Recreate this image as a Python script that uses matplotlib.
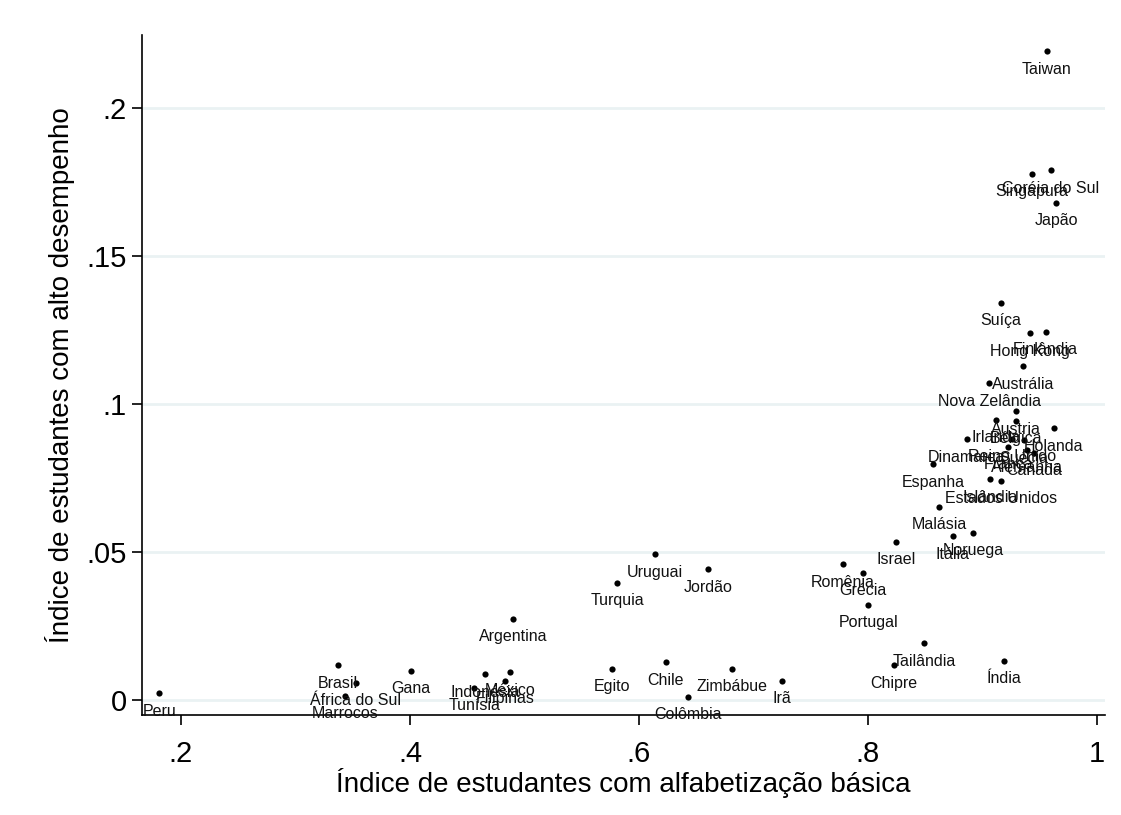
import matplotlib
matplotlib.use("Agg")
import matplotlib.pyplot as plt

plt.rcParams['font.family'] = ['Liberation Sans', 'DejaVu Sans']

# Share of students reaching basic literacy vs. share of top performers
paises = [
    "Taiwan", "Coréia do Sul", "Singapura", "Japão", "Suíça", "Hong Kong",
    "Finlândia", "Austrália", "Nova Zelândia", "Áustria", "Irlanda", "Bélgica",
    "Holanda", "Dinamarca", "Reino Unido", "Suécia", "França", "Alemanha",
    "Canadá", "Espanha", "Islândia", "Estados Unidos", "Malásia", "Itália",
    "Noruega", "Israel", "Romênia", "Grécia", "Portugal", "Irã", "Tailândia",
    "Chipre", "Índia", "Uruguai", "Jordão", "Turquia", "Egito", "Chile",
    "Zimbábue", "Colômbia", "Argentina", "Gana", "Brasil", "África do Sul",
    "Marrocos", "Peru", "Indonésia", "México", "Filipinas", "Tunísia",
]
alfabetizacao_basica = [
    0.9563, 0.9596, 0.9430, 0.9645, 0.9159, 0.9418,
    0.9552, 0.9356, 0.9059, 0.9293, 0.9115, 0.9293,
    0.9624, 0.8862, 0.9258, 0.9362, 0.9225, 0.9389,
    0.9450, 0.8570, 0.9066, 0.9162, 0.8623, 0.8740,
    0.8920, 0.8242, 0.7779, 0.7959, 0.8003, 0.7252, 0.8489,
    0.8227, 0.9188, 0.6140, 0.6605, 0.5810, 0.5762, 0.6233,
    0.6815, 0.6425, 0.4900, 0.4006, 0.3374, 0.3528,
    0.3432, 0.1810, 0.4655, 0.4873, 0.4830, 0.4562,
]
alto_desempenho = [
    0.2193, 0.1791, 0.1779, 0.1680, 0.1342, 0.1239,
    0.1244, 0.1128, 0.1070, 0.0976, 0.0948, 0.0943,
    0.0918, 0.0881, 0.0883, 0.0878, 0.0856, 0.0845,
    0.0835, 0.0797, 0.0746, 0.0741, 0.0653, 0.0554,
    0.0565, 0.0535, 0.0459, 0.0431, 0.0321, 0.0064, 0.0192,
    0.0118, 0.0133, 0.0493, 0.0442, 0.0396, 0.0105, 0.0127,
    0.0105, 0.0011, 0.0274, 0.0099, 0.0118, 0.0058,
    0.0014, 0.0023, 0.0087, 0.0094, 0.0064, 0.0042,
]
x_ticks = [0.2, 0.4, 0.6, 0.8, 1.0]
x_tick_labels = [".2", ".4", ".6", ".8", "1"]
y_ticks = [0.0, 0.05, 0.10, 0.15, 0.20]
y_tick_labels = ["0", ".05", ".1", ".15", ".2"]

fig = plt.figure(figsize=(11.21, 8.15), dpi=100)
ax = fig.add_axes([0.1267, 0.1227, 0.859, 0.834])

ax.scatter(alfabetizacao_basica, alto_desempenho, s=20, color="black",
           linewidths=0, zorder=3)

for nome, xv, yv in zip(paises, alfabetizacao_basica, alto_desempenho):
    ax.annotate(nome, (xv, yv), xytext=(0, -7.5), textcoords="offset points",
                ha="center", va="top", fontsize=11.5, color="#111111",
                zorder=4)

ax.set_xlim(0.166, 1.007)
ax.set_ylim(-0.00507, 0.2247)

ax.set_xticks(x_ticks)
ax.set_xticklabels(x_tick_labels)
ax.set_yticks(y_ticks)
ax.set_yticklabels(y_tick_labels)
ax.tick_params(axis="both", direction="out", length=7, width=1.2,
               labelsize=21, colors="black")
ax.tick_params(axis="x", pad=11)
ax.tick_params(axis="y", pad=4)

ax.yaxis.grid(True, color="#eaf2f3", linewidth=2)
ax.xaxis.grid(False)
ax.set_axisbelow(True)

for side in ["top", "right"]:
    ax.spines[side].set_visible(False)
for side in ["left", "bottom"]:
    ax.spines[side].set_linewidth(1.2)
    ax.spines[side].set_color("black")

ax.set_xlabel("Índice de estudantes com alfabetização básica", fontsize=20,
              labelpad=0)
ax.set_ylabel("Índice de estudantes com alto desempenho", fontsize=20,
              labelpad=8)

fig.savefig("out.png", dpi=100, facecolor="white")
